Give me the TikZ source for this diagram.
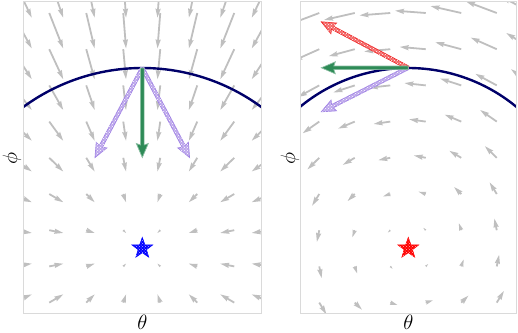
\documentclass[tikz,border=0pt]{standalone}
\usetikzlibrary{shapes.geometric,patterns}
\definecolor{qgray}{RGB}{191,191,191}
\definecolor{arcnavy}{RGB}{0,0,105}
\definecolor{framec}{RGB}{218,218,218}
\definecolor{greenA}{RGB}{46,139,87}
\definecolor{purpleA}{RGB}{160,130,228}
\definecolor{redA}{RGB}{240,40,40}
\newcommand\qvpt[3]{%
 \pgfmathsetmacro\qvtmpx{\qvtx+\qvs*((#2)*\qvux-(#3)*\qvuy)}%
 \pgfmathsetmacro\qvtmpy{\qvty+\qvs*((#2)*\qvuy+(#3)*\qvux)}%
 \expandafter\let\csname qv#1x\endcsname\qvtmpx
 \expandafter\let\csname qv#1y\endcsname\qvtmpy}
\newcommand\qvarrow[5]{%
 \pgfmathsetmacro\qvtx{#1}\pgfmathsetmacro\qvty{#2}%
 \pgfmathsetmacro\qvL{veclen(#3,#4)}%
 \pgfmathsetmacro\qvux{(#3)/\qvL}%
 \pgfmathsetmacro\qvuy{(#4)/\qvL}%
 \pgfmathsetmacro\qvs{min(1,\qvL/\qvhl)}%
 \pgfmathsetmacro\qvA{max(\qvL,\qvhl)}%
 \qvpt{a}{0}{-\qvw/2}%
 \qvpt{b}{\qvA-\qvhal}{-\qvw/2}%
 \qvpt{c}{\qvA-\qvhl}{-\qvhw/2}%
 \qvpt{d}{\qvA}{0}%
 \qvpt{e}{\qvA-\qvhl}{\qvhw/2}%
 \qvpt{f}{\qvA-\qvhal}{\qvw/2}%
 \qvpt{g}{0}{\qvw/2}%
 \path[#5] (\qvax,\qvay) -- (\qvbx,\qvby) -- (\qvcx,\qvcy) -- (\qvdx,\qvdy) -- (\qvex,\qvey) -- (\qvfx,\qvfy) -- (\qvgx,\qvgy) -- cycle;}
\tikzset{
 framebox/.style={draw=framec, line width=0.8},
 arcline/.style={draw=arcnavy, line width=2.4},
 greyarrow/.style={fill=qgray},
 greenarrow/.style={fill=greenA, draw=greenA!55!white, line width=0.7},
 purplearrow/.style={fill=purpleA!70, draw=purpleA, line width=0.7, postaction={pattern=crosshatch dots, pattern color=white}},
 redarrow/.style={fill=redA!70, draw=redA, line width=0.7, postaction={pattern=crosshatch dots, pattern color=white}},
 axislabel/.style={font=\huge, inner sep=0pt},
 minstar/.style={star, star points=5, star point ratio=2.5, minimum size=22pt, inner sep=0pt, line width=0.5}
}
\begin{document}
\begin{tikzpicture}[x=1pt,y=-1pt]
\useasboundingbox (0,0) rectangle (518,332);
% ---------- left panel ----------
\begin{scope}
 \clip (23.3,1) rectangle (261,313.3);
 \def\qvw{1.8}\def\qvhw{5.4}\def\qvhl{9}\def\qvhal{8.1}
 \foreach \i in {0,...,7}{
  \foreach \j in {0,...,10}{
   \pgfmathsetmacro\qpx{12.25+37*\i}
   \pgfmathsetmacro\qpy{-23.2+36.2*\j}
   \pgfmathsetmacro\qqx{0.15*(141.75-\qpx)}
   \pgfmathsetmacro\qqy{0.15*(248.3-\qpy)}
   \qvarrow{\qpx}{\qpy}{\qqx}{\qqy}{greyarrow}
  }}
 \draw[arcline] plot[domain=-121:121, samples=80, smooth] ({142.3+\x},{68+201*(1-sqrt(1-(\x/201)^2))});
\end{scope}
\draw[framebox] (23.3,1) rectangle (261,313.3);
\begin{scope}
 \def\qvw{3.6}\def\qvhw{12}\def\qvhl{14}\def\qvhal{12.5}
 \qvarrow{142.3}{68}{-47.3}{89.5}{purplearrow}
 \qvarrow{142.3}{68}{47.3}{89.5}{purplearrow}
 \qvarrow{142.3}{68}{0}{89.5}{greenarrow}
\end{scope}
\node[minstar, fill=blue, draw=blue, postaction={pattern=crosshatch dots, pattern color=white!70!blue}] (starL) at (142.3,248.3) {};
\node[axislabel, anchor=south] (thetaL) at (142.3,329.3) {$\theta$};
\node[axislabel, rotate=90] (phiL) at (12,158) {$\phi$};
% ---------- right panel ----------
\begin{scope}
 \clip (300.7,1) rectangle (516.7,313.3);
 \def\qvw{1.8}\def\qvhw{5.4}\def\qvhl{9}\def\qvhal{8.1}
 \foreach \i in {0,...,7}{
  \foreach \j in {0,...,10}{
   \pgfmathsetmacro\qpx{283.75+35.5*\i}
   \pgfmathsetmacro\qpy{-23.2+36.2*\j}
   \pgfmathsetmacro\qqx{0.13*(\qpy-248.3)}
   \pgfmathsetmacro\qqy{-0.13*(\qpx-408.2)}
   \qvarrow{\qpx}{\qpy}{\qqx}{\qqy}{greyarrow}
  }}
 \draw[arcline] plot[domain=-110:110, samples=80, smooth] ({408.2+\x},{68+170*(1-sqrt(1-(\x/170)^2))});
\end{scope}
\draw[framebox] (300.7,1) rectangle (516.7,313.3);
\begin{scope}
 \def\qvw{3.6}\def\qvhw{12}\def\qvhl{14}\def\qvhal{12.5}
 \qvarrow{408.2}{67.8}{-86.9}{-46}{redarrow}
 \qvarrow{408.2}{67.8}{-86.9}{44}{purplearrow}
 \qvarrow{408.2}{67.8}{-86.9}{0}{greenarrow}
\end{scope}
\node[minstar, fill=red, draw=red, postaction={pattern=crosshatch dots, pattern color=white!70!red}] (starR) at (408.3,248.3) {};
\node[axislabel, anchor=south] (thetaR) at (408.5,329.3) {$\theta$};
\node[axislabel, rotate=90] (phiR) at (290,158) {$\phi$};
\end{tikzpicture}
\end{document}
